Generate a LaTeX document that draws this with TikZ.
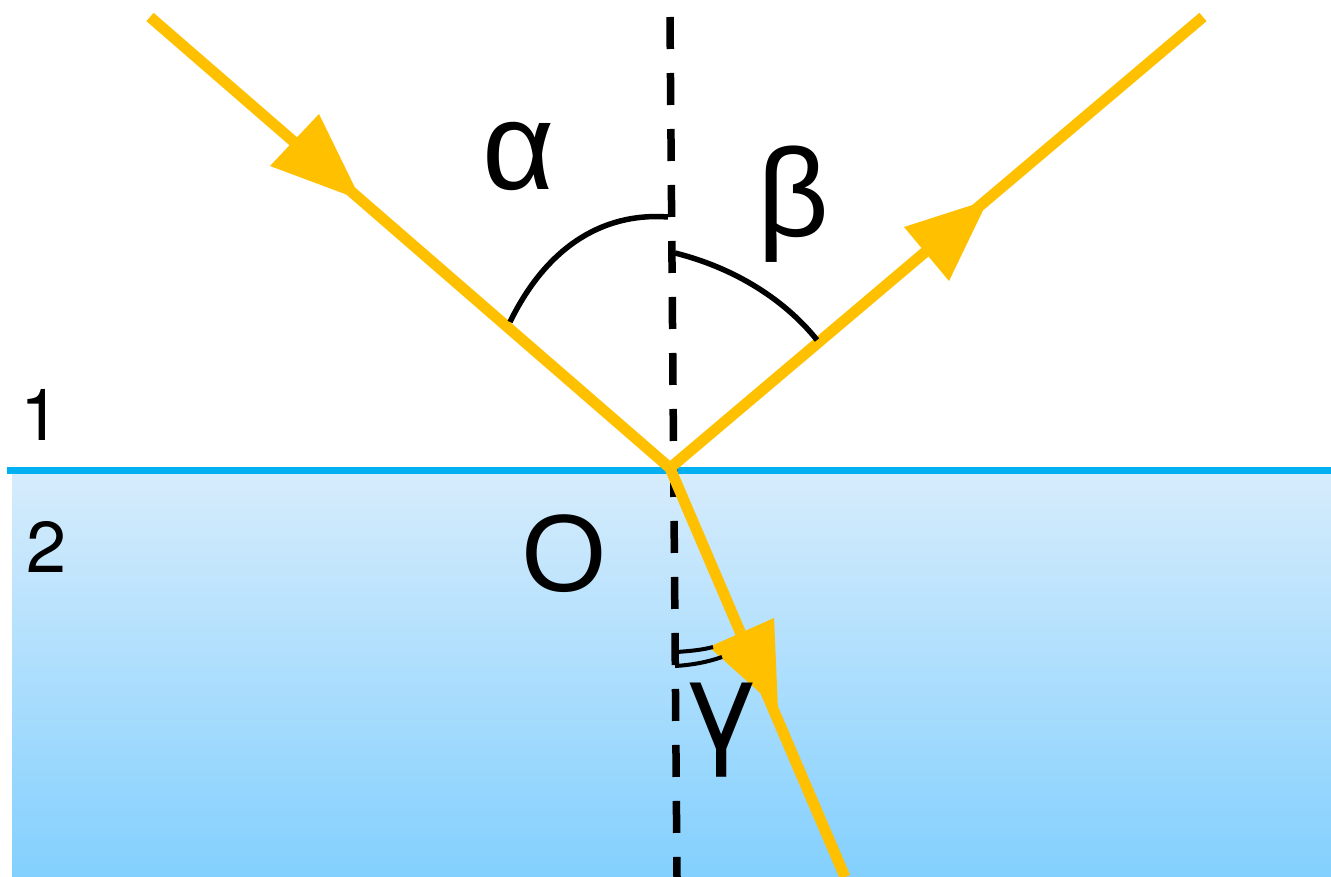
\documentclass[tikz,border=0pt]{standalone}
\usepackage{fontspec}
\setmainfont{Liberation Sans}
\newfontfamily\heros{TeX Gyre Heros}
\definecolor{ray}{HTML}{FFC000}
\definecolor{iface}{HTML}{00B0F0}
\definecolor{wtop}{HTML}{D6ECFC}
\definecolor{wbot}{HTML}{83D0FE}
\tikzset{
  raypath/.style={draw=ray, line width=11pt, line cap=butt},
  rayhead/.style={fill=ray, draw=none},
  normalline/.style={draw=black, line width=7.5pt, dash pattern=on 32pt off 24pt},
  anglearc/.style={draw=black, line width=5.5pt},
  gammaarc/.style={draw=black, line width=4pt},
  biglabel/.style={inner sep=0pt, anchor=base, font=\fontsize{125}{130}\selectfont},
  olabel/.style={inner sep=0pt, anchor=base, font=\fontsize{110}{115}\selectfont},
  medlabel/.style={inner sep=0pt, anchor=base, font=\heros\fontsize{72}{76}\selectfont}
}
\begin{document}
\begin{tikzpicture}[x=1pt,y=-1pt]
\useasboundingbox (0,0) rectangle (1331,877);
% medium 2
\shade[top color=wtop, bottom color=wbot] (12,472) rectangle (1331,877);
% interface
\coordinate (L) at (7,470);
\coordinate (R) at (1331,470);
\draw[iface, line width=7pt] (L) -- (R);
% normal
\coordinate (Ntop) at (670,17);
\coordinate (Nbot) at (677,877);
\draw[normalline] (Ntop) -- (Nbot);
% rays
\coordinate (O) at (670,468);
\coordinate (A) at (150,17);
\coordinate (B) at (1203,17);
\coordinate (C) at (845,877);
\draw[raypath] (A) -- (O);
\draw[raypath] (O) -- (B);
\draw[raypath] (O) -- (C);
% arrowheads
\fill[rayhead] (361,200) -- (270,166) -- (319,114) -- cycle;
\fill[rayhead] (988,200) -- (904,227) -- (949,281) -- cycle;
\fill[rayhead] (778,709) -- (709,647) -- (774,618) -- cycle;
% angle arcs
\draw[anglearc] (510,322) .. controls (545,250) and (600,212) .. (668,217);
\draw[anglearc] (675,253) .. controls (735,268) and (785,300) .. (817,340);
\draw[gammaarc] (677,652) .. controls (690,651) and (702,650) .. (713,647);
\draw[gammaarc] (675,666) .. controls (692,665) and (708,662) .. (722,657);
% labels
\node[biglabel] (alpha) at (519,190) {α};
\node[biglabel] (beta) at (793,237) {β};
\node[biglabel, font=\heros\fontsize{125}{130}\selectfont] (gamma) at (722,748) {γ};
\node[olabel] (Olab) at (564,591) {O};
\node[medlabel] (one) at (41,440) {1};
\node[medlabel] (two) at (47,572) {2};
\end{tikzpicture}
\end{document}
